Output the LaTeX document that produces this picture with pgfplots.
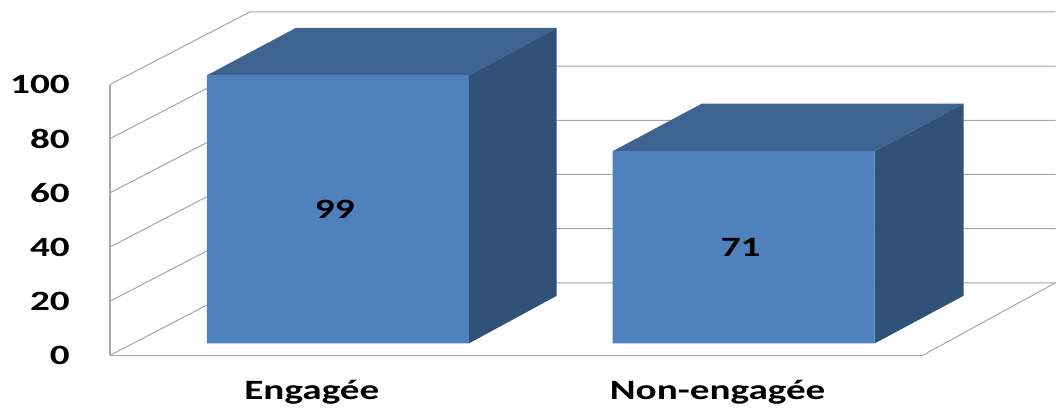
\documentclass[border=0pt]{standalone}
\usepackage{fontspec}
\usepackage{pgfplots}
\pgfplotsset{compat=1.18}
\newfontfamily\lab[FakeStretch=1.4]{Carlito}
\definecolor{barfront}{HTML}{4F81BD}
\definecolor{bartop}{HTML}{3F6390}
\definecolor{barside}{HTML}{315278}
\definecolor{wall}{HTML}{A6A6A6}
\begin{document}
\begin{tikzpicture}[x=1pt,y=1pt]
\begin{axis}[
  scale only axis, width=813pt, height=271pt,
  at={(110pt,59.5pt)}, anchor=origin,
  xmin=110, xmax=923, ymin=0, ymax=100,
  clip=false,
  axis lines*=left,
  axis line style={-, draw=wall, line width=1.5pt},
  major tick length=0pt,
  ytick={0,20,40,60,80,100},
  xtick={312,718},
  xticklabels={Engagée,Non-engagée},
  /pgf/number format/assume math mode=true,
  tick label style={font=\lab\bfseries\fontsize{28}{28}\selectfont, text=black, inner sep=0pt},
  yticklabel style={xshift=-40pt},
  xticklabel style={anchor=base, yshift=-44pt},
]
% back wall and side wall gridlines
\addplot[wall, line width=1pt] coordinates {(110,0)(250,26.8)(1056,26.8)};
\addplot[wall, line width=1pt] coordinates {(110,20)(250,46.8)(1056,46.8)};
\addplot[wall, line width=1pt] coordinates {(110,40)(250,66.8)(1056,66.8)};
\addplot[wall, line width=1pt] coordinates {(110,60)(250,86.8)(1056,86.8)};
\addplot[wall, line width=1pt] coordinates {(110,80)(250,106.8)(1056,106.8)};
\addplot[wall, line width=1pt] coordinates {(110,100)(250,126.8)(1056,126.8)};
\addplot[wall, line width=1pt] coordinates {(923,0)(1056,26.8)};
% bar depth
\addplot[draw=none, fill=bartop] coordinates {(207,103.4)(469,103.4)(557,120.9)(296,120.9)} -- cycle;
\addplot[draw=none, fill=barside] coordinates {(469,103.4)(557,120.9)(557,22)(469,4.4)} -- cycle;
\addplot[draw=none, fill=bartop] coordinates {(613,75.4)(875,75.4)(964,92.9)(702,92.9)} -- cycle;
\addplot[draw=none, fill=barside] coordinates {(875,75.4)(964,92.9)(964,22)(875,4.4)} -- cycle;
% bar fronts
\addplot[ybar, bar width=262pt, bar shift=0pt, draw=none, fill=barfront, yshift=12pt]
  coordinates {(338,99)(744,71)};
% value labels
\addplot[draw=none, mark=none, nodes near coords, point meta=explicit symbolic,
  every node near coord/.style={anchor=center, inner sep=0pt, text=black,
    font=\lab\bfseries\fontsize{28}{28}\selectfont}]
  coordinates {(335,53.9)[99] (741,39.9)[71]};
\path (axis cs:0,-22.0) rectangle (axis cs:1056,131.2);
\end{axis}
\end{tikzpicture}
\end{document}
